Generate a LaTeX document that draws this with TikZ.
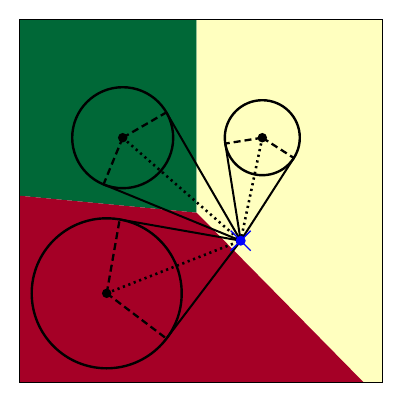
\documentclass[tikz,border=0pt]{standalone}
\usetikzlibrary{calc}
\definecolor{rgGreen}{HTML}{006837}
\definecolor{rgYellow}{HTML}{FFFFBF}
\definecolor{rgRed}{HTML}{A50026}
\begin{document}
\begin{tikzpicture}[x=1pt,y=-1pt,
  ring/.style={circle,draw,line width=2.4pt,inner sep=0pt,outer sep=0pt},
  ctr/.style={circle,fill=black,inner sep=0pt,minimum size=9.5pt},
  tline/.style={line width=2pt},
  radius line/.style={line width=2.3pt,dash pattern=on 7pt off 4pt},
  dotline/.style={line width=2.6pt,dash pattern=on 2.2pt off 3.6pt},
  xmark/.style={blue,line width=1.3pt}]
\path[use as bounding box] (0,0) rectangle (400,400);
% regions
\fill[rgGreen] (19.5,19) -- (196.7,19) -- (196.7,212.7) -- (19.5,195.7) -- cycle;
\fill[rgYellow] (196.7,19) -- (382,19) -- (382,382) -- (363.3,382) -- (196.7,212.7) -- cycle;
\fill[rgRed] (19.5,195.7) -- (196.7,212.7) -- (363.3,382) -- (19.5,382) -- cycle;
\draw[line width=1pt] (19.5,19) rectangle (382,382);
% point
\coordinate (P) at (240.7,240.7);
% circles
\node[ring,minimum size=101pt] (c1) at (122.7,137.7) {};
\node[ring,minimum size=75pt] (c2) at (262.3,137.7) {};
\node[ring,minimum size=150pt] (c3) at (106.7,293.3) {};
\foreach \c in {c1,c2,c3}{
  \coordinate (\c a) at (tangent cs:node=\c,point={(P)},solution=1);
  \coordinate (\c b) at (tangent cs:node=\c,point={(P)},solution=2);
  \draw[tline] (P) -- (\c a);
  \draw[tline] (P) -- (\c b);
  \draw[radius line] (\c.center) -- (\c a);
  \draw[radius line] (\c.center) -- (\c b);
  \draw[dotline] (\c.center) -- (P);
  \node[ctr] (\c dot) at (\c.center) {};
}
% query point
\draw[xmark] ($(P)+(-10,-10)$) -- ($(P)+(10,10)$);
\draw[xmark] ($(P)+(-10,10)$) -- ($(P)+(10,-10)$);
\node[circle,fill=blue,inner sep=0pt,minimum size=10pt] (Pdot) at (P) {};
\end{tikzpicture}
\end{document}
